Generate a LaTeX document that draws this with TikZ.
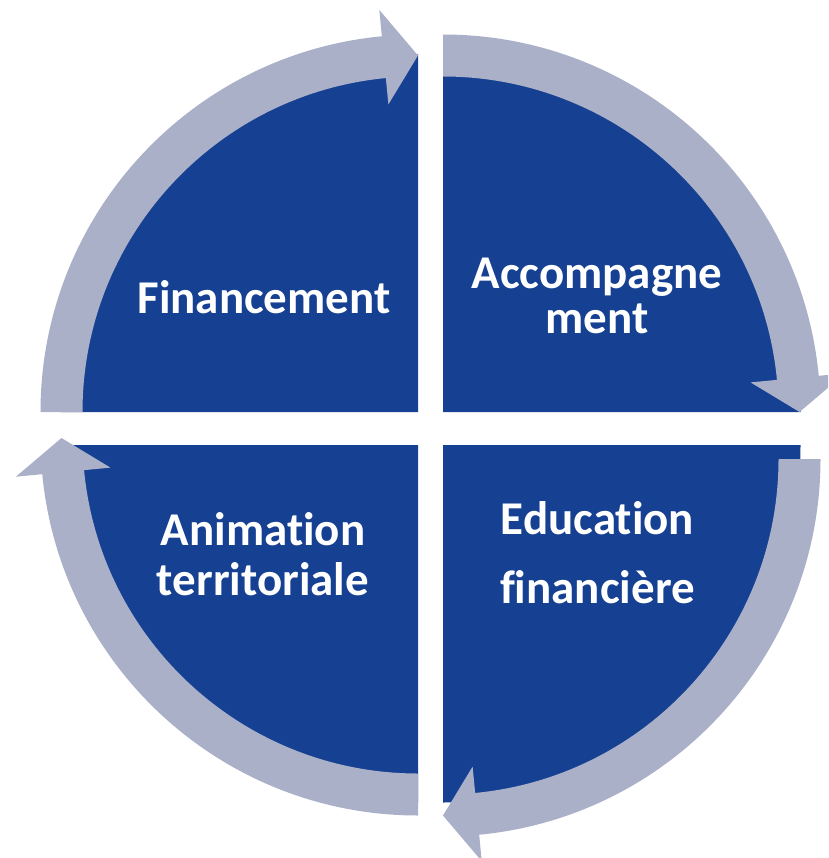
\documentclass[tikz,border=0pt]{standalone}
\usepackage{fontspec}
\setmainfont{Carlito}[Ligatures={NoCommon}]
\usetikzlibrary{calc}
\definecolor{pieblue}{RGB}{22,64,146}
\definecolor{arrowgrey}{RGB}{170,176,200}
\newcommand\cyclearrow[3]{%
  \fill[arrowgrey] ($(#1)+({#2}:377.5)$)
    arc[start angle={#2}, end angle={#3-5.5}, radius=377.5]
    -- ($(#1)+({#3-5.5}:404)$)
    -- ($(#1)+({#3}:356.5)$)
    -- ($(#1)+({#3-5.5}:309)$)
    -- ($(#1)+({#3-5.5}:335.5)$)
    arc[start angle={#3-5.5}, end angle={#2}, radius=335.5]
    -- cycle;}
\newcommand\quarterpie[3]{%
  \fill[pieblue] (#1) -- ($(#1)+({#2}:357.5)$)
    arc[start angle={#2}, end angle={#3}, radius=357.5] -- cycle;}
\begin{document}
\begin{tikzpicture}[x=1pt,y=-1pt,
  label/.style={text=white, font=\bfseries\fontsize{47}{47}\selectfont, align=center, inner sep=0pt, anchor=base}]
\useasboundingbox (0,0) rectangle (828,858);
\clip (0,0) rectangle (828,858);
\coordinate (ctl) at (418,412);
\coordinate (ctr) at (443,412);
\coordinate (cbr) at (443,445);
\coordinate (cbl) at (418,445);
\coordinate (atl) at (418,412);
\coordinate (atr) at (443,412);
\coordinate (abr) at (443,459);
\coordinate (abl) at (418,438);
% quarter pies
\quarterpie{ctl}{180}{270}
\quarterpie{ctr}{270}{360}
\quarterpie{cbr}{0}{90}
\quarterpie{cbl}{90}{180}
% circular arrows
\cyclearrow{atl}{180}{270}
\cyclearrow{atr}{270}{360}
\cyclearrow{abr}{0}{90}
\cyclearrow{abl}{90}{180}
% labels (base anchor = baseline of the last line)
\node[label] (fin) at (264,313) {Financement};
\node[label] (acc) at (597,333) {Accompagne\\[-2pt]ment};
\node[label] (edu) at (597.5,603) {Education\\[22pt]financière};
\node[label] (ani) at (263,595) {Animation\\[3pt]territoriale};
\end{tikzpicture}
\end{document}
